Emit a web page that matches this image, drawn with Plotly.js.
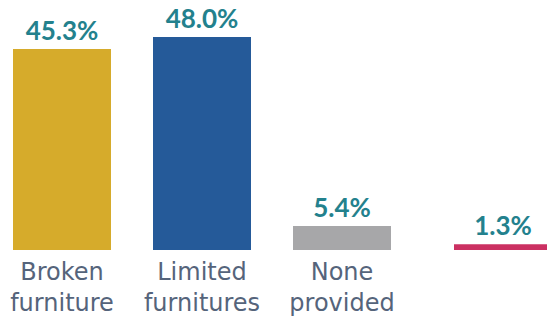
<!DOCTYPE html>
<html><head><meta charset="utf-8">
<script src="https://cdn.plot.ly/plotly-3.0.1.min.js"></script>
<style>html,body{margin:0;padding:0;background:#fff}#c{width:547px;height:318px}</style>
</head><body><div id="c"></div>
<script>
const categories = ["Broken<br>furniture", "Limited<br>furnitures", "None<br>provided"];
const values = [45.3, 48.0, 5.4, 1.3];
const labels = ["45.3%", "48.0%", "5.4%", "1.3%"];
const colors = ["#D6AB2B", "#255A99", "#A7A7A9", "#CB3062"];
const xs = values.map((v, i) => i);

Plotly.newPlot('c', [{
  type: 'bar',
  x: xs,
  y: values,
  width: 0.7,
  offset: [-0.35, -0.35, -0.35, -0.2],
  marker: {color: colors},
  text: labels,
  textposition: 'outside',
  cliponaxis: false,
  textfont: {family: 'Lato, "Liberation Sans", sans-serif', size: 26, color: '#23818D', weight: 'bold'},
  hoverinfo: 'none'
}], {
  width: 547, height: 318,
  margin: {l: 0, r: 0, t: 0, b: 68, pad: 0},
  paper_bgcolor: '#fff', plot_bgcolor: '#fff',
  showlegend: false,
  xaxis: {
    range: [-62/140, -62/140 + 547/140],
    tickvals: [0, 1, 2],
    ticktext: categories,
    showgrid: false, zeroline: false, showline: false, ticks: '',
    ticklabelstandoff: 5,
    tickfont: {family: '"DejaVu Sans", sans-serif', size: 24, color: '#55647B'},
    fixedrange: true
  },
  yaxis: {
    range: [0, 250/4.4375],
    visible: false, showgrid: false, zeroline: false, fixedrange: true
  }
}, {displayModeBar: false, staticPlot: true});
</script>
</body></html>
